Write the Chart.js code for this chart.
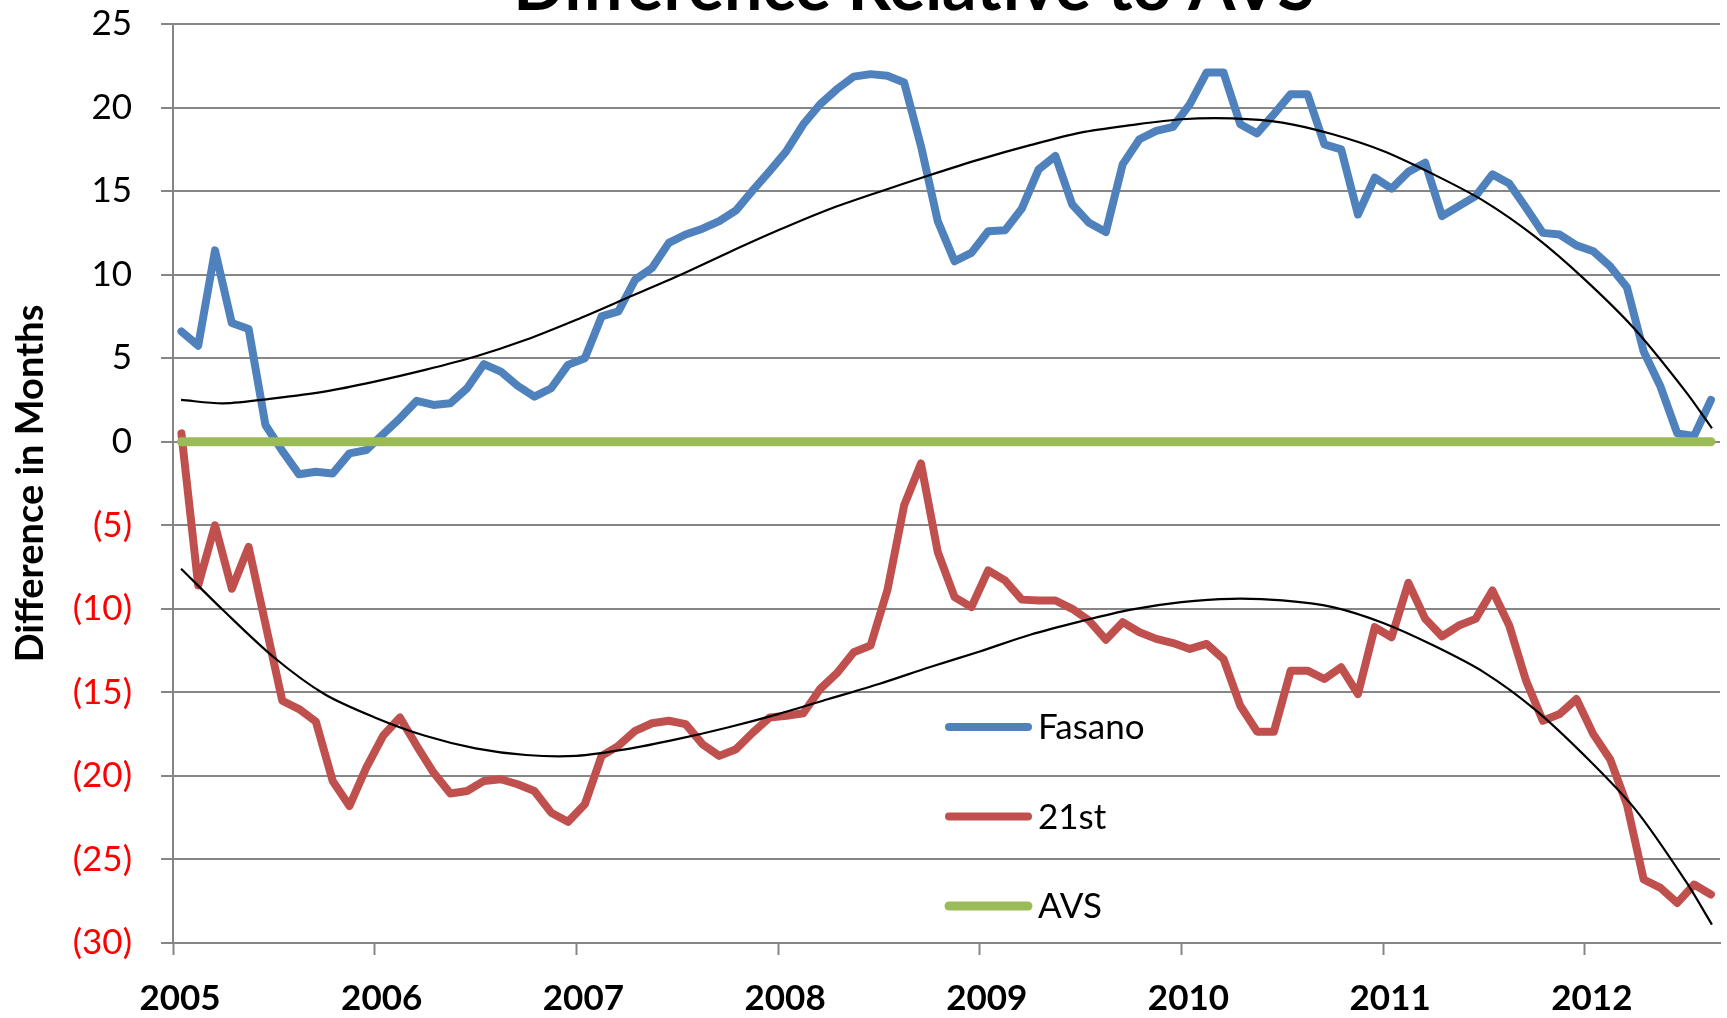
<!DOCTYPE html>
<html>
<head>
<meta charset="utf-8">
<script src="https://cdn.jsdelivr.net/npm/chart.js"></script>
<style>
  body { margin: 0; background: #fff; }
  #wrap { width: 1727px; height: 1018px; }
</style>
</head>
<body>
<div id="wrap"><canvas id="myChart" width="1727" height="1018"></canvas></div>
<script>
// monthly values, Jan 2005 .. Aug 2012
const startYear = 2005;
const yearTicks = [2005, 2006, 2007, 2008, 2009, 2010, 2011, 2012];

const fasano = [
  6.6, 5.75, 11.45, 7.1, 6.75, 1.0, -0.55, -1.95, -1.8, -1.9, -0.7, -0.5,
  0.45, 1.4, 2.45, 2.2, 2.3, 3.2, 4.65, 4.2, 3.35, 2.7, 3.2, 4.6,
  5.0, 7.5, 7.8, 9.7, 10.4, 11.9, 12.4, 12.75, 13.2, 13.85, 15.05, 16.2,
  17.4, 19.0, 20.2, 21.1, 21.85, 22.0, 21.9, 21.5, 17.7, 13.2, 10.8, 11.3,
  12.6, 12.65, 13.95, 16.3, 17.1, 14.2, 13.1, 12.55, 16.6, 18.1, 18.6, 18.85,
  20.2, 22.1, 22.1, 19.0, 18.45, 19.6, 20.8, 20.8, 17.8, 17.5, 13.6, 15.8,
  15.15, 16.15, 16.7, 13.5, 14.1, 14.7, 16.0, 15.45, 14.0, 12.5, 12.4, 11.75,
  11.4, 10.5, 9.25, 5.4, 3.3, 0.5, 0.35, 2.5
];

const twentyFirst = [
  0.5, -8.6, -5.0, -8.8, -6.3, -10.9, -15.5, -16.0, -16.75, -20.3, -21.8, -19.5,
  -17.6, -16.5, -18.2, -19.8, -21.05, -20.9, -20.3, -20.2, -20.5, -20.9, -22.2, -22.75,
  -21.7, -18.8, -18.2, -17.3, -16.85, -16.7, -16.9, -18.1, -18.8, -18.4, -17.4, -16.5,
  -16.4, -16.25, -14.8, -13.85, -12.6, -12.2, -8.9, -3.8, -1.3, -6.6, -9.3, -9.9,
  -7.7, -8.3, -9.45, -9.5, -9.5, -10.0, -10.7, -11.85, -10.8, -11.4, -11.8, -12.05,
  -12.4, -12.1, -13.0, -15.8, -17.35, -17.35, -13.7, -13.7, -14.2, -13.5, -15.1, -11.1,
  -11.7, -8.45, -10.6, -11.65, -11.0, -10.6, -8.9, -11.0, -14.3, -16.7, -16.3, -15.4,
  -17.5, -19.0, -21.7, -26.2, -26.7, -27.6, -26.5, -27.1
];

const avs = [
  0, 0, 0, 0, 0, 0, 0, 0, 0, 0, 0, 0,
  0, 0, 0, 0, 0, 0, 0, 0, 0, 0, 0, 0,
  0, 0, 0, 0, 0, 0, 0, 0, 0, 0, 0, 0,
  0, 0, 0, 0, 0, 0, 0, 0, 0, 0, 0, 0,
  0, 0, 0, 0, 0, 0, 0, 0, 0, 0, 0, 0,
  0, 0, 0, 0, 0, 0, 0, 0, 0, 0, 0, 0,
  0, 0, 0, 0, 0, 0, 0, 0, 0, 0, 0, 0,
  0, 0, 0, 0, 0, 0, 0, 0
];

// trendlines, every quarter year
const trendYears = [2005.04, 2005.25, 2005.5, 2005.75, 2006, 2006.25, 2006.5, 2006.75,
  2007, 2007.25, 2007.5, 2007.75, 2008, 2008.25, 2008.5, 2008.75,
  2009, 2009.25, 2009.5, 2009.75, 2010, 2010.25, 2010.5, 2010.75,
  2011, 2011.25, 2011.5, 2011.75, 2012, 2012.25, 2012.5, 2012.63];
const trendFasano = [2.5, 2.3, 2.6, 3.0, 3.6, 4.3, 5.1, 6.1,
  7.3, 8.6, 9.9, 11.3, 12.65, 13.9, 14.95, 15.95,
  16.9, 17.75, 18.5, 18.95, 19.3, 19.35, 19.1, 18.4,
  17.4, 16.0, 14.4, 12.3, 9.7, 6.7, 3.0, 0.8];
const trendTwentyFirst = [-7.6, -10.1, -12.9, -15.1, -16.5, -17.6, -18.35, -18.75,
  -18.8, -18.4, -17.8, -17.1, -16.3, -15.4, -14.5, -13.5,
  -12.55, -11.55, -10.75, -10.05, -9.6, -9.4, -9.5, -9.9,
  -10.85, -12.2, -13.8, -16.0, -18.8, -22.0, -26.3, -28.9];

const legendNames = ['Fasano', '21st', 'AVS'];
const titleText = 'Difference Relative to AVS';
const yTitle = 'Difference in Months';

const GRID = '#868686';

function monthPos(i){
	return startYear + (i + 0.5) / 12;
}

function toPoints(values){
	return values.map(function(v, i){ return {x: monthPos(i), y: v}; });
}

function trendPoints(values){
	return values.map(function(v, i){ return {x: trendYears[i], y: v}; });
}

const titlePlugin = {
	id: 'cutTitle',
	afterDraw: function(chart){
		const ctx = chart.ctx;
		ctx.save();
		ctx.font = 'bold 68px Lato';
		ctx.fillStyle = '#000';
		ctx.textAlign = 'center';
		ctx.textBaseline = 'alphabetic';
		ctx.fillText(titleText, 914, 10);
		ctx.restore();
	}
};

const legendPlugin = {
	id: 'insideLegend',
	afterDatasetsDraw: function(chart){
		const ctx = chart.ctx;
		ctx.save();
		ctx.font = '35px Lato';
		ctx.textBaseline = 'middle';
		ctx.textAlign = 'left';
		legendNames.forEach(function(name, i){
			const ds = chart.data.datasets.find(function(d){ return d.label === name; });
			const y = 727 + i * 89.5;
			ctx.strokeStyle = ds.borderColor;
			ctx.lineWidth = ds.borderWidth;
			ctx.lineCap = 'round';
			ctx.beginPath();
			ctx.moveTo(949, y);
			ctx.lineTo(1028, y);
			ctx.stroke();
			ctx.fillStyle = '#000';
			ctx.fillText(name, 1038, y + 1);
		});
		ctx.restore();
	}
};

const data = {
	datasets: [
		{
			label: 'trend Fasano',
			data: trendPoints(trendFasano),
			borderColor: '#000000',
			borderWidth: 2.2,
			tension: 0.3,
			pointRadius: 0,
			order: 0
		},
		{
			label: 'trend 21st',
			data: trendPoints(trendTwentyFirst),
			borderColor: '#000000',
			borderWidth: 2.2,
			tension: 0.3,
			pointRadius: 0,
			order: 0
		},
		{
			label: 'AVS',
			data: toPoints(avs),
			borderColor: '#9BBB59',
			borderWidth: 9,
			borderCapStyle: 'round',
			pointRadius: 0,
			order: 1
		},
		{
			label: '21st',
			data: toPoints(twentyFirst),
			borderColor: '#C0504D',
			borderWidth: 8,
			borderCapStyle: 'round',
			borderJoinStyle: 'round',
			pointRadius: 0,
			order: 2
		},
		{
			label: 'Fasano',
			data: toPoints(fasano),
			borderColor: '#4F81BD',
			borderWidth: 8,
			borderCapStyle: 'round',
			borderJoinStyle: 'round',
			pointRadius: 0,
			order: 3
		}
	]
};

const config = {
	type: 'line',
	data: data,
	plugins: [legendPlugin, titlePlugin],
	options: {
		responsive: false,
		animation: false,
		devicePixelRatio: 1,
		layout: {
			autoPadding: false,
			padding: {left: 0, right: 7, top: 24, bottom: 0}
		},
		plugins: {
			legend: {display: false},
			tooltip: {enabled: false},
			title: {display: false}
		},
		scales: {
			x: {
				type: 'linear',
				min: yearTicks[0],
				max: 2012.67,
				afterFit: function(scale){
					scale.height = 75;
					scale.paddingLeft = 0;
					scale.paddingRight = 0;
				},
				afterBuildTicks: function(scale){
					scale.ticks = yearTicks.map(function(y){ return {value: y}; });
				},
				ticks: {
					callback: function(v){ return String(v); },
					font: {family: 'Lato', size: 35, weight: 'bold'},
					color: '#000',
					padding: 23,
					labelOffset: 7,
					maxRotation: 0,
					autoSkip: false
				},
				grid: {
					drawOnChartArea: false,
					drawTicks: true,
					tickLength: 12,
					tickColor: GRID,
					tickWidth: 2
				},
				border: {display: true, color: GRID, width: 2}
			},
			y: {
				min: -30,
				max: 25,
				afterFit: function(scale){
					scale.width = 173;
					scale.paddingTop = 0;
					scale.paddingBottom = 0;
				},
				ticks: {
					stepSize: 5,
					callback: function(v){ return v < 0 ? '(' + (-v) + ')' : String(v); },
					color: function(c){ return c.tick && c.tick.value < 0 ? '#FF0000' : '#000000'; },
					font: {family: 'Lato', size: 35},
					padding: 29
				},
				grid: {
					color: GRID,
					lineWidth: 2,
					drawTicks: true,
					tickLength: 12
				},
				border: {display: true, color: GRID, width: 2},
				title: {
					display: true,
					text: yTitle,
					color: '#000',
					font: {family: 'Lato', size: 38, weight: 'bold'},
					padding: {top: 8, bottom: 0}
				}
			}
		}
	}
};

var myChart = new Chart(document.getElementById('myChart'), config);
</script>
</body>
</html>
